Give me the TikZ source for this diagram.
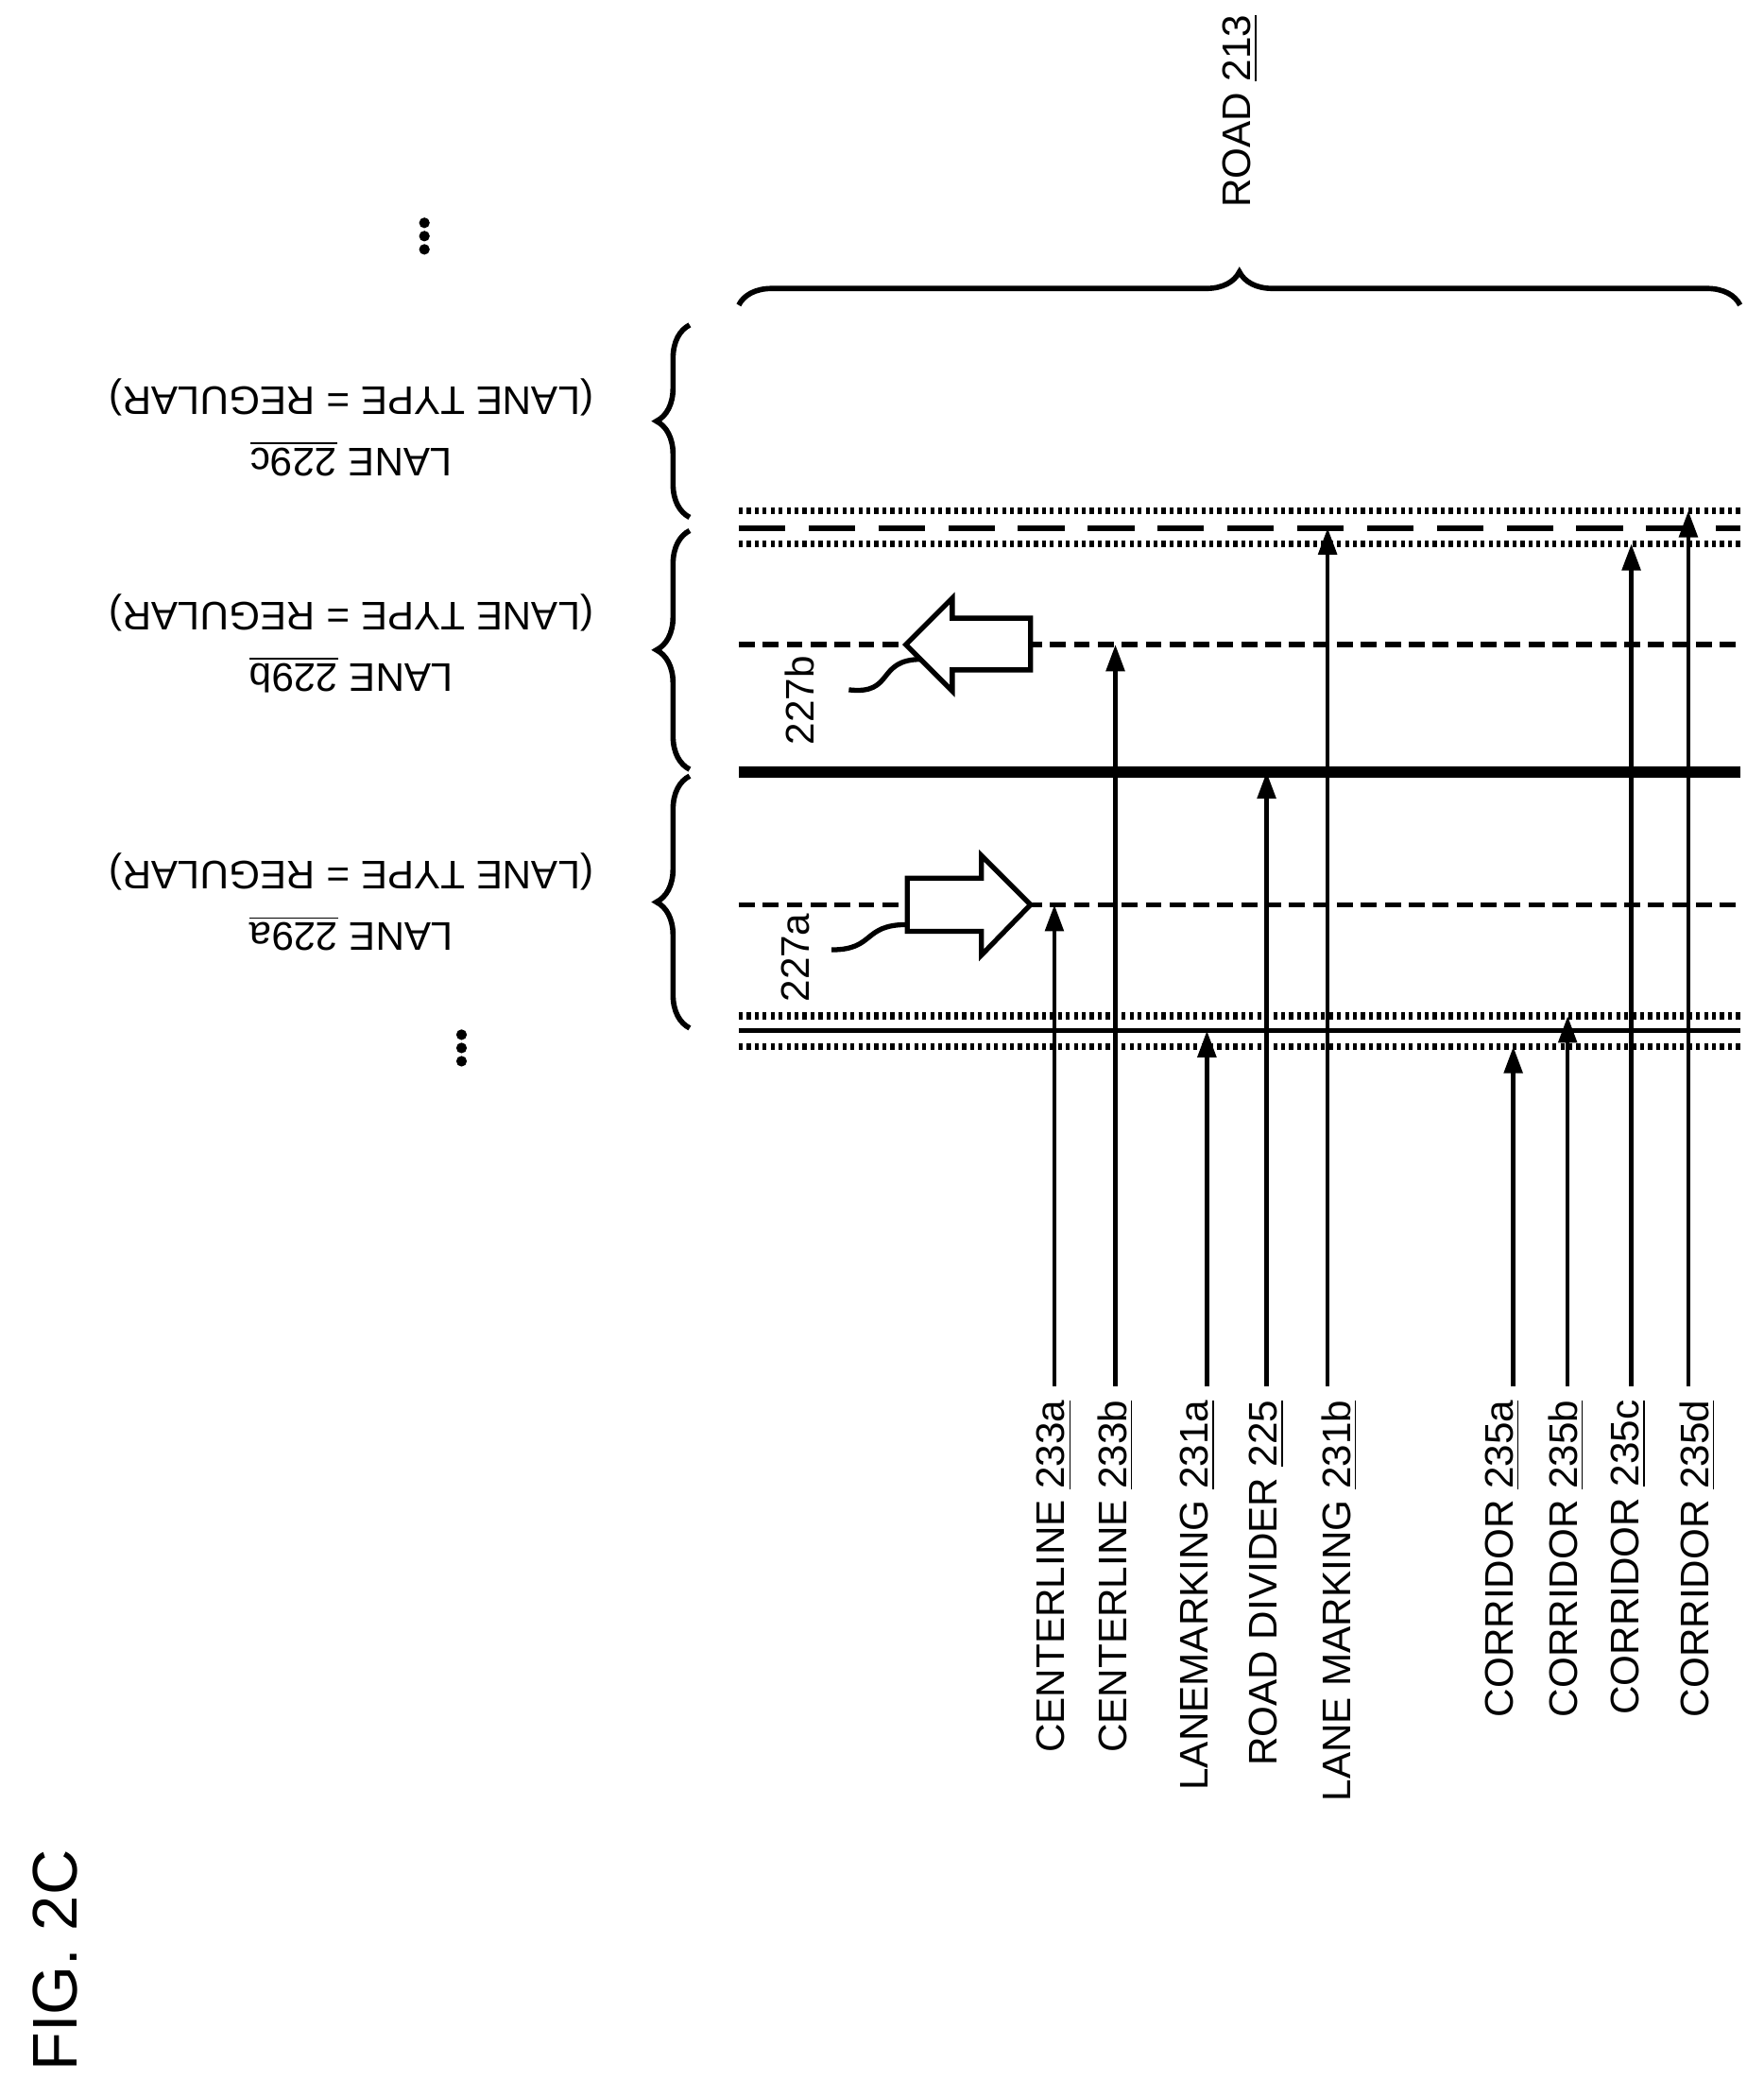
\documentclass[tikz,border=0pt]{standalone}
\usepackage{fontspec}
\setmainfont{Liberation Sans}
\usetikzlibrary{arrows.meta,decorations.pathreplacing}
\begin{document}
\begin{tikzpicture}[x=0.01403cm,y=-0.01403cm,
  lbl/.style={font=\fontsize{12}{14}\selectfont,rotate=90,anchor=east,inner sep=0pt},
  ptr/.style={line width=1.3pt,-{Triangle[length=8pt,width=5.5pt]}},
  dotl/.style={line width=2.2pt,dash pattern=on 1.2pt off 1.2pt},
  cdash/.style={line width=1.6pt,dash pattern=on 4.8pt off 2.4pt},
  ldash/.style={line width=1.8pt,dash pattern=on 14pt off 7pt},
  brc/.style={line width=1.6pt,decorate,decoration={brace,amplitude=10pt}},
  lane/.style={font=\fontsize{12}{18.5}\selectfont,rotate=180,align=center},
  big/.style={line width=1.5pt,fill=white,line join=miter},
  dot/.style={circle,fill,inner sep=0pt,minimum size=3.2pt}]
\useasboundingbox (0,0) rectangle (1330,1568);
\draw[dotl] (557,385) -- (1312,385);
\draw[ldash] (557,398) -- (1312,398);
\draw[dotl] (557,410) -- (1312,410);
\draw[cdash] (557,486) -- (1312,486);
\draw[line width=3.3pt] (557,582) -- (1312,582);
\draw[cdash] (557,682) -- (1312,682);
\draw[dotl] (557,766) -- (1312,766);
\draw[line width=1.6pt] (557,777) -- (1312,777);
\draw[dotl] (557,789) -- (1312,789);
\draw[big] (777,466) -- (718,466) -- (718,451) -- (683,486) -- (718,521) -- (718,505) -- (777,505) -- cycle;
\draw[big] (684,662) -- (740,662) -- (740,645) -- (777,682) -- (740,720) -- (740,702) -- (684,702) -- cycle;
\node[lbl,anchor=center] (l227b) at (603,528) {227b};
\node[lbl,anchor=center] (l227a) at (600,722) {227a};
\draw[line width=1.5pt] (695,497) .. controls (660,497) and (675,524) .. (640,520);
\draw[line width=1.5pt] (684,697) .. controls (650,697) and (660,716) .. (627,716);
\coordinate (t233a) at (795,682);
\coordinate (t233b) at (841,486);
\coordinate (t231a) at (910,777);
\coordinate (t225) at (955,582);
\coordinate (t231b) at (1001,398);
\coordinate (t235a) at (1141,789);
\coordinate (t235b) at (1182,766);
\coordinate (t235c) at (1230,410);
\coordinate (t235d) at (1273,385);
\node[lbl] (n233a) at (795,1055) {CENTERLINE \underline{233a}};
\node[lbl] (n233b) at (841,1055) {CENTERLINE \underline{233b}};
\node[lbl] (n231a) at (903,1055) {LANEMARKING \underline{231a}};
\node[lbl] (n225) at (955,1055) {ROAD DIVIDER \underline{225}};
\node[lbl] (n231b) at (1010,1055) {LANE MARKING \underline{231b}};
\node[lbl] (n235a) at (1133,1055) {CORRIDOR \underline{235a}};
\node[lbl] (n235b) at (1181,1055) {CORRIDOR \underline{235b}};
\node[lbl] (n235c) at (1228,1055) {CORRIDOR \underline{235c}};
\node[lbl] (n235d) at (1280,1055) {CORRIDOR \underline{235d}};
\draw[ptr] (795,1045) -- (t233a);
\draw[ptr] (841,1045) -- (t233b);
\draw[ptr] (910,1045) -- (t231a);
\draw[ptr] (955,1045) -- (t225);
\draw[ptr] (1001,1045) -- (t231b);
\draw[ptr] (1141,1045) -- (t235a);
\draw[ptr] (1182,1045) -- (t235b);
\draw[ptr] (1230,1045) -- (t235c);
\draw[ptr] (1273,1045) -- (t235d);
\draw[brc] (520,775) -- (520,585);
\draw[brc] (520,580) -- (520,400);
\draw[brc] (520,390) -- (520,245);
\draw[brc] (557,230) -- (1312,230);
\node[lbl,anchor=west] (road) at (935,157) {ROAD \underline{213}};
\node[lane] (la) at (265,680) {LANE \underline{229a}\\(LANE TYPE = REGULAR)};
\node[lane] (lb) at (265,485) {LANE \underline{229b}\\(LANE TYPE = REGULAR)};
\node[lane] (lc) at (265,322) {LANE \underline{229c}\\(LANE TYPE = REGULAR)};
\node[dot] (d1a) at (320,168) {};
\node[dot] (d1b) at (320,178) {};
\node[dot] (d1c) at (320,188) {};
\node[dot] (d2a) at (348,780) {};
\node[dot] (d2b) at (348,790) {};
\node[dot] (d2c) at (348,800) {};
\node[font=\fontsize{19}{22}\selectfont,rotate=90,inner sep=0pt] (fig) at (42,1478) {FIG. 2C};
\end{tikzpicture}
\end{document}
